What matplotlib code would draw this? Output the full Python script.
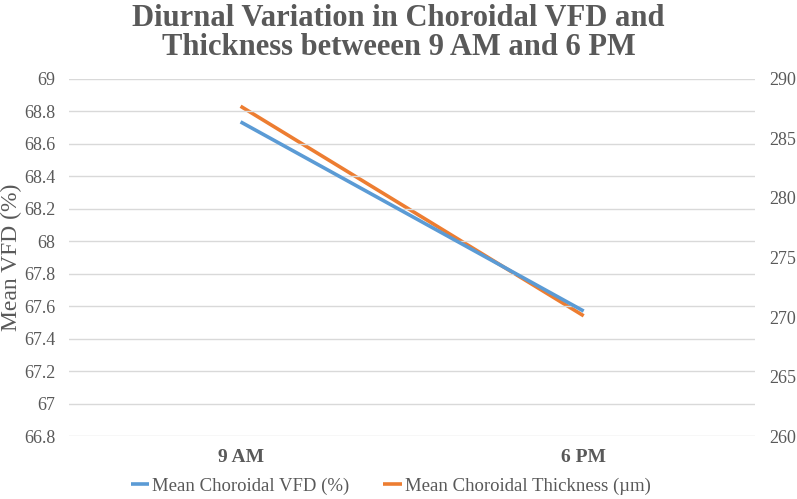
import matplotlib
matplotlib.use("Agg")
import matplotlib.pyplot as plt

# data
times = ["9 AM", "6 PM"]
vfd = [68.735, 67.57]          # mean choroidal VFD (%)
thickness = [287.7, 270.1]     # mean choroidal thickness (um)

vfd_ticks = [66.8 + 0.2 * i for i in range(12)]
thick_ticks = [260, 265, 270, 275, 280, 285, 290]

plt.rcParams['font.family'] = ['Liberation Serif', 'DejaVu Serif']
gray = '#595959'
blue = '#5B9BD5'
orange = '#ED7D31'

fig = plt.figure(figsize=(7.97, 4.99), dpi=100)
ax = fig.add_axes([0.0866, 0.126, 0.861, 0.716])
ax2 = ax.twinx()

x = range(len(times))
l1, = ax.plot(x, vfd, color=blue, lw=2.6, solid_capstyle='butt')
l2, = ax2.plot(x, thickness, color=orange, lw=2.6, solid_capstyle='butt')
ax2.set_zorder(ax.get_zorder() - 1)
ax.patch.set_visible(False)

ax.set_xlim(-0.5, 1.5)
ax.set_ylim(66.8, 69)
ax2.set_ylim(260, 290)
ax.set_yticks(vfd_ticks)
ax.set_yticklabels([f"{round(t, 1):g}" for t in vfd_ticks])
ax2.set_yticks(thick_ticks)
ax.set_xticks(list(x))
ax.set_xticklabels(times, fontweight='bold')

ax.grid(axis='y', color='#D9D9D9', lw=1)
ax.set_axisbelow(True)
for a in (ax, ax2):
    for s in a.spines.values():
        s.set_visible(False)
    a.tick_params(length=0, colors=gray, labelsize=13)
ax.tick_params(axis='y', pad=10)
ax2.tick_params(axis='y', pad=10)
ax.tick_params(axis='x', pad=9, labelsize=14)

ax.set_ylabel("Mean VFD (%)", fontsize=17, color=gray)
ax.yaxis.set_label_coords(-0.068, 0.5)

fig.suptitle("Diurnal Variation in Choroidal VFD and\nThickness betweeen 9 AM and 6 PM",
             fontsize=22, fontweight='bold', color=gray, y=0.992, linespacing=1.0)

fig.legend([l1, l2], ["Mean Choroidal VFD (%)", "Mean Choroidal Thickness (\u00b5m)"],
           loc='lower center', bbox_to_anchor=(0.49, -0.025), ncol=2, frameon=False,
           fontsize=13.5, handlelength=1.0, handletextpad=0.15, columnspacing=1.8,
           labelcolor=gray)

fig.savefig("out.png", dpi=100)
